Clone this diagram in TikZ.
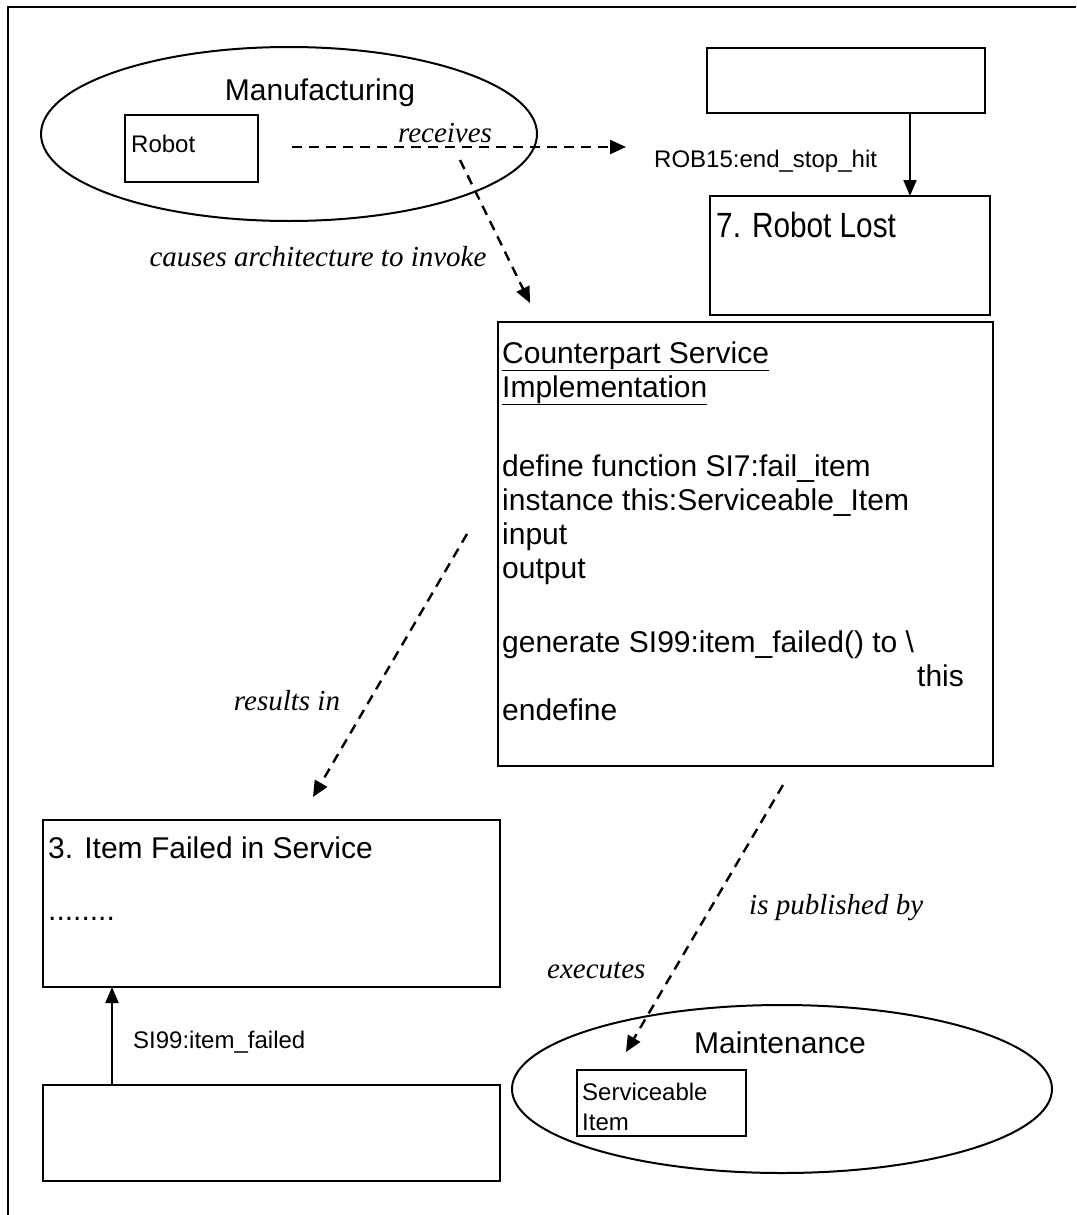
\documentclass[tikz,border=0pt]{standalone}
\usepackage{fontspec}
\setmainfont{Liberation Sans}
\newfontfamily\labelfont{Liberation Serif}
\newfontfamily\narrowfont[FakeStretch=0.85]{Liberation Sans}
\usetikzlibrary{shapes.geometric,arrows.meta}

\tikzset{
  box/.style={draw, line width=2pt, inner sep=0pt, outer sep=0pt, anchor=north west},
  oval/.style={draw, ellipse, line width=2pt, inner sep=0pt, outer sep=0pt},
  txt/.style={inner sep=0pt, anchor=base west, font=\fontsize{30}{34}\selectfont},
  smalltxt/.style={inner sep=0pt, anchor=base west, font=\fontsize{24}{30}\selectfont},
  relation/.style={inner sep=0pt, anchor=base, font=\labelfont\itshape\fontsize{29}{34}\selectfont},
  flow/.style={line width=2.4pt, dash pattern=on 10pt off 7pt, -{Triangle[length=16pt,width=14pt]}},
  event/.style={line width=2pt, -{Triangle[length=16pt,width=13pt]}},
}

\begin{document}
\begin{tikzpicture}[x=1pt,y=-1pt]
\useasboundingbox (0,0) rectangle (1076,1215);

% page frame (top and left edges)
\draw[line width=2pt] (1076,7) -- (8,7) -- (8,1215);

% Manufacturing domain
\node[oval, minimum width=496pt, minimum height=174pt] (mfg) at (289,134) {};
\node[txt, anchor=base] (mfgname) at (320,100) {Manufacturing};
\node[box, minimum width=133pt, minimum height=67pt] (robot) at (125,115) {};
\node[smalltxt] (robotname) at (131,152) {Robot};

% received event
\coordinate (recvA) at (292,147);
\coordinate (recvB) at (626,147);
\draw[flow] (recvA) -- (recvB);
\node[relation] (receives) at (445,142) {receives};

% invocation of the counterpart service
\coordinate (invA) at (460,160);
\coordinate (invB) at (530,303);
\draw[flow] (invA) -- (invB);
\node[relation] (causes) at (318,266) {causes architecture to invoke};

% Robot state machine fragment
\node[box, minimum width=278pt, minimum height=65pt] (prevstate) at (707,48) {};
\node[box, minimum width=280pt, minimum height=119pt] (lost) at (710,196) {};
\node[txt, font=\narrowfont\fontsize{35}{40}\selectfont] (losttext) at (716,237) {7. Robot Lost};
\coordinate (lostx) at (910,0);
\draw[event] (prevstate.south -| lostx) -- (lost.north -| lostx);
\node[smalltxt] (robevent) at (654,167) {ROB15:end\_stop\_hit};

% Counterpart service implementation
\node[box, minimum width=495pt, minimum height=444pt] (csi) at (498,322) {};
\node[txt] (csi1) at (502,363) {\underline{Counterpart Service}};
\node[txt] (csi2) at (502,397) {\underline{Implementation}};
\node[txt] (csi3) at (502,476) {define function SI7:fail\_item};
\node[txt] (csi4) at (502,510) {instance this:Serviceable\_Item};
\node[txt] (csi5) at (502,544) {input};
\node[txt] (csi6) at (502,578) {output};
\node[txt] (csi7) at (502,652) {generate SI99:item\_failed() to \textbackslash};
\node[txt] (csi8) at (917,686) {this};
\node[txt] (csi9) at (502,720) {endefine};

% result: item failed
\coordinate (resA) at (467,534);
\coordinate (resB) at (313,797);
\draw[flow] (resA) -- (resB);
\node[relation] (results) at (287,710) {results in};

\node[box, minimum width=457pt, minimum height=167pt] (failed) at (43,820) {};
\node[txt] (failedtext) at (48,858) {3. Item Failed in Service};
\node[txt] (faileddots) at (48,920) {........};

\node[box, minimum width=457pt, minimum height=96pt] (prevfailed) at (43,1085) {};
\coordinate (failx) at (112,0);
\draw[event] (prevfailed.north -| failx) -- (failed.south -| failx);
\node[smalltxt] (failevent) at (133,1048) {SI99:item\_failed};

% Maintenance domain
\node[oval, minimum width=540pt, minimum height=168pt] (mnt) at (782,1089) {};
\node[txt, anchor=base] (mntname) at (780,1053) {Maintenance};
\node[box, minimum width=169pt, minimum height=66pt] (item) at (577,1070) {};
\node[smalltxt] (item1) at (582,1100) {Serviceable};
\node[smalltxt] (item2) at (582,1130) {Item};

% publication
\coordinate (pubA) at (783,785);
\coordinate (pubB) at (626,1052);
\draw[flow] (pubA) -- (pubB);
\node[relation, anchor=base west] (published) at (749,914) {is published by};
\node[relation, anchor=base west] (executes) at (547,978) {executes};
\end{tikzpicture}
\end{document}
